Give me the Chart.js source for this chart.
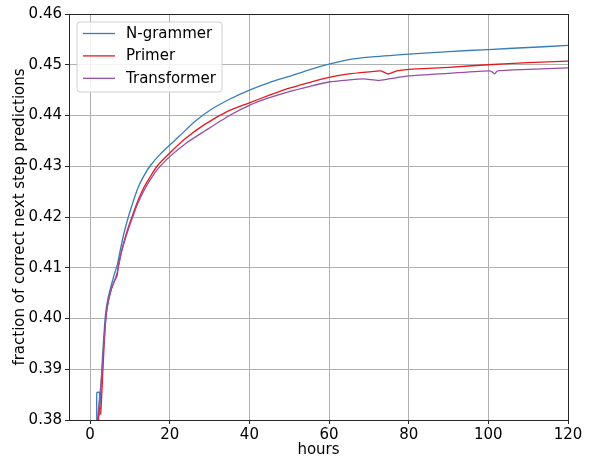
<!DOCTYPE html>
<html>
<head>
<meta charset="utf-8">
<script src="https://cdn.jsdelivr.net/npm/chart.js@4/dist/chart.umd.min.js"></script>
<style>
html,body{margin:0;padding:0;background:#fff;}
#wrap{width:592px;height:462px;}
</style>
</head>
<body>
<div id="wrap"><canvas id="c" width="592" height="462"></canvas></div>
<script>
// ---- data ----
const seriesNames = ["N-grammer", "Primer", "Transformer"];
const seriesColors = ["#377eb8", "#e41a1c", "#984ea3"];

const ngHours = [1.7, 1.7, 2.35, 2.35, 2.9, 3.4, 3.9, 4.5, 5.2, 6.0, 6.8, 7.5, 8.5, 9.6, 10.8, 12.1, 13.5, 15, 17.5, 20, 22.5, 26.3, 30, 35, 40, 45, 50, 55, 60, 65, 70, 80, 90, 100, 110, 120];
const ngValues = [0.378, 0.3854, 0.3854, 0.381, 0.3895, 0.3960, 0.4010, 0.4040, 0.4062, 0.4085, 0.4105, 0.4132, 0.4168, 0.4200, 0.4230, 0.4259, 0.4281, 0.4300, 0.4323, 0.4342, 0.4360, 0.4388, 0.4410, 0.4432, 0.4450, 0.4465, 0.4477, 0.4490, 0.4501, 0.4510, 0.4515, 0.4521, 0.4526, 0.4530, 0.4534, 0.4538];

const prHours = [2.18, 2.18, 2.68, 2.68, 3.1, 3.5, 4.0, 4.6, 5.3, 6.0, 6.8, 7.0, 7.9, 9.2, 10.5, 12, 13.5, 15, 16.8, 20, 24, 28.9, 35, 40, 45, 50, 55, 60, 65, 70, 73, 74.9, 77, 80, 90, 100, 110, 120];
const prValues = [0.378, 0.3823, 0.3823, 0.3812, 0.3880, 0.3945, 0.4005, 0.4035, 0.4057, 0.4072, 0.4085, 0.4100, 0.4133, 0.4170, 0.4200, 0.4232, 0.4258, 0.4278, 0.4300, 0.4326, 0.4355, 0.4383, 0.4410, 0.4425, 0.4440, 0.4454, 0.4465, 0.4475, 0.4482, 0.4486, 0.4488, 0.4482, 0.4488, 0.4491, 0.4495, 0.4500, 0.4504, 0.4507];

const tfHours = [1.6, 2.2, 2.9, 3.4, 4.0, 4.6, 5.3, 6.0, 6.8, 7.9, 9.2, 10.5, 12, 13.5, 15, 16.8, 20, 24, 28.9, 35, 40, 45, 50, 55, 60, 65, 68.6, 72.4, 75, 80, 90, 100.5, 101.6, 102.3, 110, 120];
const tfValues = [0.378, 0.3830, 0.3885, 0.3945, 0.4005, 0.4035, 0.4057, 0.4072, 0.4090, 0.4132, 0.4166, 0.4196, 0.4227, 0.4252, 0.4272, 0.4293, 0.4319, 0.4345, 0.4370, 0.4400, 0.4420, 0.4435, 0.4447, 0.4457, 0.4466, 0.4470, 0.4472, 0.4469, 0.4472, 0.4478, 0.4483, 0.4488, 0.4482, 0.4488, 0.4491, 0.4494];

const xTickValues = [0, 20, 40, 60, 80, 100, 120];
const yTickValues = [0.38, 0.39, 0.40, 0.41, 0.42, 0.43, 0.44, 0.45, 0.46];
const xLabel = "hours";
const yLabel = "fraction of correct next step predictions";

// ---- chart ----
const FONT = "'DejaVu Sans', sans-serif";
const hoursList = [ngHours, prHours, tfHours];
const valuesList = [ngValues, prValues, tfValues];

const datasets = seriesNames.map((name, i) => ({
  label: name,
  data: hoursList[i].map((h, k) => ({x: h, y: valuesList[i][k]})),
  borderColor: seriesColors[i],
  backgroundColor: seriesColors[i],
  borderWidth: 1.3,
  pointRadius: 0,
  tension: 0.2,
  order: 3 - i
}));

const framePlugin = {
  id: 'frame',
  afterDatasetsDraw(chart) {
    const {ctx, chartArea: a} = chart;
    ctx.save();
    ctx.strokeStyle = '#262626';
    ctx.lineWidth = 1;
    ctx.strokeRect(Math.round(a.left) + 0.5, Math.round(a.top) + 0.5, Math.round(a.right - a.left), Math.round(a.bottom - a.top));
    ctx.restore();
  }
};

const legendPlugin = {
  id: 'mplLegend',
  afterDraw(chart) {
    const ctx = chart.ctx;
    const bx = 77, by = 22, bw = 145, bh = 70, r = 3;
    ctx.save();
    ctx.beginPath();
    ctx.moveTo(bx + r, by);
    ctx.arcTo(bx + bw, by, bx + bw, by + bh, r);
    ctx.arcTo(bx + bw, by + bh, bx, by + bh, r);
    ctx.arcTo(bx, by + bh, bx, by, r);
    ctx.arcTo(bx, by, bx + bw, by, r);
    ctx.closePath();
    ctx.fillStyle = 'rgba(255,255,255,0.85)';
    ctx.fill();
    ctx.strokeStyle = '#d0d0d0';
    ctx.lineWidth = 1;
    ctx.stroke();
    ctx.font = '15px ' + FONT;
    ctx.textBaseline = 'middle';
    ctx.textAlign = 'left';
    chart.data.datasets.forEach((ds, i) => {
      const y = 33.5 + i * 22.4;
      ctx.strokeStyle = ds.borderColor;
      ctx.lineWidth = 1.3;
      ctx.beginPath();
      ctx.moveTo(83, y);
      ctx.lineTo(115, y);
      ctx.stroke();
      ctx.fillStyle = '#000';
      ctx.fillText(ds.label, 126, y + 0.5);
    });
    ctx.restore();
  }
};

new Chart(document.getElementById('c'), {
  type: 'line',
  data: {datasets},
  options: {
    responsive: false,
    animation: false,
    devicePixelRatio: 1,
    layout: {padding: {left: 0, right: 24, top: 14, bottom: 0}},
    plugins: {legend: {display: false}, tooltip: {enabled: false}},
    scales: {
      x: {
        type: 'linear',
        min: -5.3,
        max: 120,
        afterBuildTicks: (s) => { s.ticks = xTickValues.map(v => ({value: v})); },
        afterFit: (s) => { s.height = 42; },
        grid: {color: '#b0b0b0', lineWidth: 1, tickLength: 4, tickColor: '#262626', drawTicks: true},
        border: {display: false},
        ticks: {color: '#000', font: {family: FONT, size: 15}, padding: 2, maxRotation: 0, callback: v => String(v)},
        title: {display: true, text: xLabel, color: '#000', font: {family: FONT, size: 15, lineHeight: 1.2}, padding: {top: 0, bottom: 3}}
      },
      y: {
        type: 'linear',
        min: 0.38,
        max: 0.46,
        afterBuildTicks: (s) => { s.ticks = yTickValues.map(v => ({value: v})); },
        afterFit: (s) => { s.width = 69; },
        grid: {color: '#b0b0b0', lineWidth: 1, tickLength: 4, tickColor: '#262626', drawTicks: true},
        border: {display: false},
        ticks: {color: '#000', font: {family: FONT, size: 15}, padding: 3, callback: v => Number(v).toFixed(2)},
        title: {display: true, text: yLabel, color: '#000', font: {family: FONT, size: 15, lineHeight: 1.2}, padding: {top: 11, bottom: 0}}
      }
    }
  },
  plugins: [framePlugin, legendPlugin]
});
</script>
</body>
</html>
